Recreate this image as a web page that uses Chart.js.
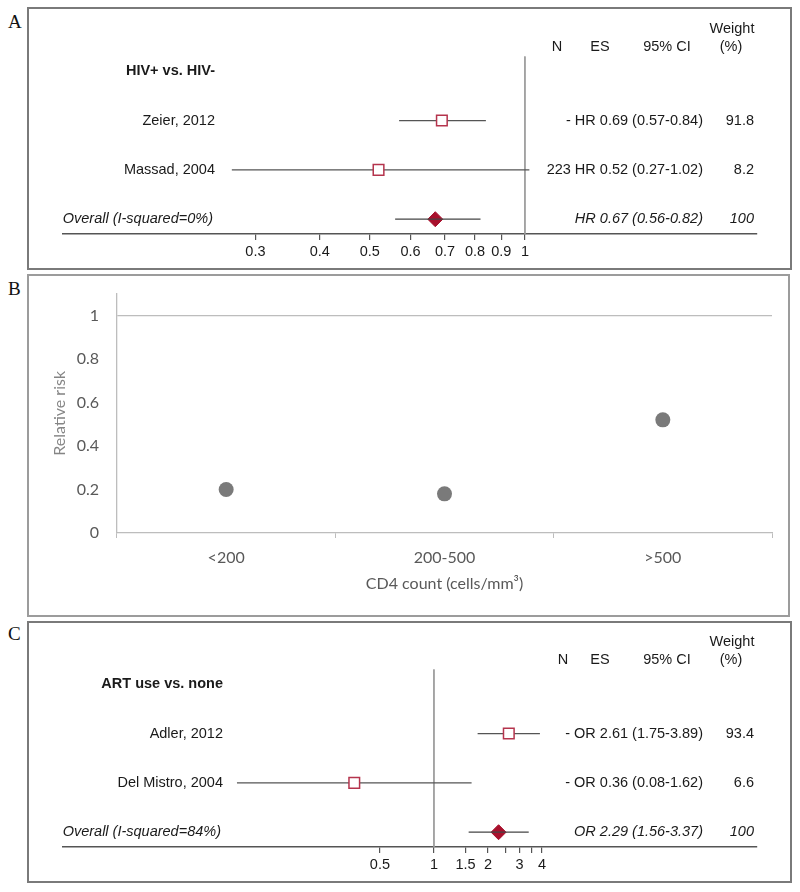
<!DOCTYPE html>
<html>
<head>
<meta charset="utf-8">
<script src="https://cdn.jsdelivr.net/npm/chart.js@4"></script>
<style>
  html, body { margin: 0; padding: 0; background: #fff; }
  #page { position: relative; width: 800px; height: 892px; overflow: hidden; }
  .box { position: absolute; box-sizing: border-box; border: 2px solid #7a7a7a; }
  .tag { position: absolute; left: 8px; font: 19px "Liberation Serif", "DejaVu Serif", serif; line-height: 19px; color: #111; }
  canvas { position: absolute; left: 0; }
</style>
</head>
<body>
<div id="page">
  <div class="box" style="left:27px;top:7px;width:765px;height:263px"></div>
  <div class="box" style="left:27px;top:274px;width:763px;height:343px;border-color:#9c9c9c"></div>
  <div class="box" style="left:27px;top:621px;width:765px;height:262px"></div>
  <div class="tag" style="top:12px">A</div>
  <div class="tag" style="top:279px">B</div>
  <div class="tag" style="top:624px">C</div>
  <canvas id="chartA" style="top:8px" width="800" height="262"></canvas>
  <canvas id="chartB" style="top:266px" width="800" height="350"></canvas>
  <canvas id="chartC" style="top:621px" width="800" height="262"></canvas>
</div>
<script>
// Panel A: HIV+ vs HIV-
const aGroup = 'HIV+ vs. HIV-';
const aStudies = ['Zeier, 2012', 'Massad, 2004'];
const aN = ['-', '223'];
const aEs = [0.69, 0.52];
const aLo = [0.57, 0.27];
const aHi = [0.84, 1.02];
const aWeight = ['91.8', '8.2'];
const aOverall = [0.67, 0.56, 0.82];
const aOverallLabel = 'Overall (I-squared=0%)';
const aTicks = [0.3, 0.4, 0.5, 0.6, 0.7, 0.8, 0.9, 1];
const aTickLabels = ['0.3', '0.4', '0.5', '0.6', '0.7', '0.8', '0.9', '1'];

// Panel B: relative risk by CD4 count
const cd4Groups = ['<200', '200-500', '>500'];
const relRisk = [0.20, 0.18, 0.52];
const rrTicks = [0, 0.2, 0.4, 0.6, 0.8, 1];

// Panel C: ART use vs none
const cGroup = 'ART use vs. none';
const cStudies = ['Adler, 2012', 'Del Mistro, 2004'];
const cN = ['-', '-'];
const cEs = [2.61, 0.36];
const cLo = [1.75, 0.08];
const cHi = [3.89, 1.62];
const cWeight = ['93.4', '6.6'];
const cOverall = [2.29, 1.56, 3.37];
const cOverallLabel = 'Overall (I-squared=84%)';
const cTicks = [0.5, 1, 1.5, 2, 2.5, 3, 3.5, 4];
const cTickLabels = ['0.5', '1', '1.5', '2', '', '3', '', '4'];

const SANS = '"Liberation Sans", Arial, sans-serif';
const TXT = '#1a1a1a';
const fmt = v => v.toFixed(2);

function forestChart(id, o) {
  const n = o.studies.length;
  const datasets = [];
  // reference line at 1
  datasets.push({
    data: [{ x: 1, y: -0.3 }, { x: 1, y: n + 1.3 }],
    showLine: true, borderColor: '#9a9a9a', borderWidth: 1, pointRadius: 0, order: 10
  });
  o.studies.forEach((s, i) => {
    datasets.push({
      data: [{ x: o.lo[i], y: i + 1 }, { x: o.hi[i], y: i + 1 }],
      showLine: true, borderColor: '#555', borderWidth: 1.3, pointRadius: 0, order: 5
    });
  });
  datasets.push({
    data: o.es.map((v, i) => ({ x: v, y: i + 1 })),
    pointStyle: 'rect', pointRadius: 7.5, backgroundColor: '#fff',
    borderColor: '#b5344d', borderWidth: 1.5, order: 1
  });
  datasets.push({
    data: [{ x: o.overall[0], y: n + 1 }],
    pointStyle: 'rectRot', pointRadius: 7.5, backgroundColor: '#a8102c',
    borderColor: '#a8102c', borderWidth: 1, order: 6
  });
  datasets.push({
    data: [{ x: o.overall[1], y: n + 1 }, { x: o.overall[2], y: n + 1 }],
    showLine: true, borderColor: '#444', borderWidth: 1.3, pointRadius: 0, order: 4
  });

  const textPlugin = {
    id: 'forestText',
    afterDraw(chart) {
      const ctx = chart.ctx;
      const y = v => chart.scales.y.getPixelForValue(v);
      ctx.save();
      ctx.fillStyle = TXT;
      ctx.textBaseline = 'middle';
      ctx.font = '14.5px ' + SANS;
      ctx.textAlign = 'center';
      ctx.fillText('Weight', 732, y(-0.86));
      ctx.fillText('(%)', 731, y(-0.5));
      ctx.fillText('N', o.nX, y(-0.5));
      ctx.fillText('ES', 600, y(-0.5));
      ctx.fillText('95% CI', 667, y(-0.5));
      ctx.textAlign = 'right';
      ctx.font = 'bold 14.5px ' + SANS;
      ctx.fillText(o.group, o.labelRight, y(0));
      ctx.font = '14.5px ' + SANS;
      o.studies.forEach((s, i) => {
        ctx.fillText(s, o.labelRight, y(i + 1));
        ctx.fillText(`${o.nn[i]} ${o.measure} ${fmt(o.es[i])} (${fmt(o.lo[i])}-${fmt(o.hi[i])})`, 703, y(i + 1));
        ctx.fillText(o.weight[i], 754, y(i + 1));
      });
      ctx.font = 'italic 14.5px ' + SANS;
      ctx.fillText(o.overallLabel, o.labelRight - 2, y(n + 1));
      ctx.fillText(`${o.measure} ${fmt(o.overall[0])} (${fmt(o.overall[1])}-${fmt(o.overall[2])})`, 703, y(n + 1));
      ctx.fillText('100', 754, y(n + 1));
      ctx.restore();
    }
  };

  return new Chart(document.getElementById(id), {
    type: 'scatter',
    data: { datasets },
    options: {
      responsive: false,
      animation: false,
      layout: { padding: { left: 63, right: 43, top: 7, bottom: 0 } },
      plugins: { legend: { display: false }, tooltip: { enabled: false } },
      scales: {
        y: { type: 'linear', display: false, reverse: true, min: -1.1, max: n + 1.3 },
        x: {
          type: 'logarithmic',
          min: o.min, max: o.max,
          grid: { drawOnChartArea: false, drawTicks: true, tickLength: 6, color: '#555', lineWidth: 1.2 },
          border: { color: '#555', width: 1.5 },
          ticks: {
            color: TXT, font: { family: SANS, size: 14.5 }, padding: 3,
            autoSkip: false, maxRotation: 0,
            callback: v => o.tickLabels[o.ticks.indexOf(v)] ?? ''
          },
          afterBuildTicks: scale => { scale.ticks = o.ticks.map(v => ({ value: v })); },
          afterFit: scale => { scale.height = 36; }
        }
      }
    },
    plugins: [textPlugin]
  });
}

forestChart('chartA', {
  group: aGroup, studies: aStudies, nn: aN, es: aEs, lo: aLo, hi: aHi, weight: aWeight,
  overall: aOverall, overallLabel: aOverallLabel, measure: 'HR',
  ticks: aTicks, tickLabels: aTickLabels, min: 0.127, max: 2.82, labelRight: 215, nX: 557
});

forestChart('chartC', {
  group: cGroup, studies: cStudies, nn: cN, es: cEs, lo: cLo, hi: cHi, weight: cWeight,
  overall: cOverall, overallLabel: cOverallLabel, measure: 'OR',
  ticks: cTicks, tickLabels: cTickLabels, min: 0.0086, max: 62.9, labelRight: 223, nX: 563
});

// Panel B
const LATO = 'Lato, "Open Sans", sans-serif';
new Chart(document.getElementById('chartB'), {
  type: 'line',
  data: {
    labels: cd4Groups,
    datasets: [{
      data: relRisk,
      showLine: false,
      pointRadius: 7.5,
      pointBackgroundColor: '#7a7a7a',
      pointBorderWidth: 0
    }]
  },
  options: {
    responsive: false,
    animation: false,
    layout: { padding: { left: 0, right: 28, top: 0, bottom: 0 } },
    plugins: { legend: { display: false }, tooltip: { enabled: false } },
    scales: {
      x: {
        offset: true,
        grid: { offset: true, drawOnChartArea: false, drawTicks: true, tickLength: 5, color: '#bdbdbd' },
        border: { color: '#bdbdbd', width: 1.3 },
        ticks: { color: '#595959', font: { family: LATO, size: 16 }, padding: 10, maxRotation: 0 },
        title: {
          display: true, text: 'CD4 count (cells/mm³)', color: '#595959',
          font: { family: LATO, size: 16 }, padding: { top: 0, bottom: 23 }
        },
        afterFit: scale => { scale.height = 83; }
      },
      y: {
        min: 0, max: 1.1,
        grid: {
          drawTicks: false,
          color: c => (c.tick && Math.abs(c.tick.value - 1) < 1e-6 ? '#bdbdbd' : 'rgba(0,0,0,0)'),
          lineWidth: 1.2
        },
        border: { color: '#bdbdbd', width: 1.3 },
        ticks: {
          color: '#595959', font: { family: LATO, size: 16 }, padding: 18,
          callback: v => String(+Number(v).toFixed(1))
        },
        afterBuildTicks: scale => { scale.ticks = rrTicks.map(v => ({ value: v })); },
        title: {
          display: true, text: 'Relative risk', color: '#858585',
          font: { family: LATO, size: 16 }, padding: { top: 50, bottom: 0 }
        },
        afterFit: scale => { scale.width = 117; }
      }
    }
  }
});
</script>
</body>
</html>
